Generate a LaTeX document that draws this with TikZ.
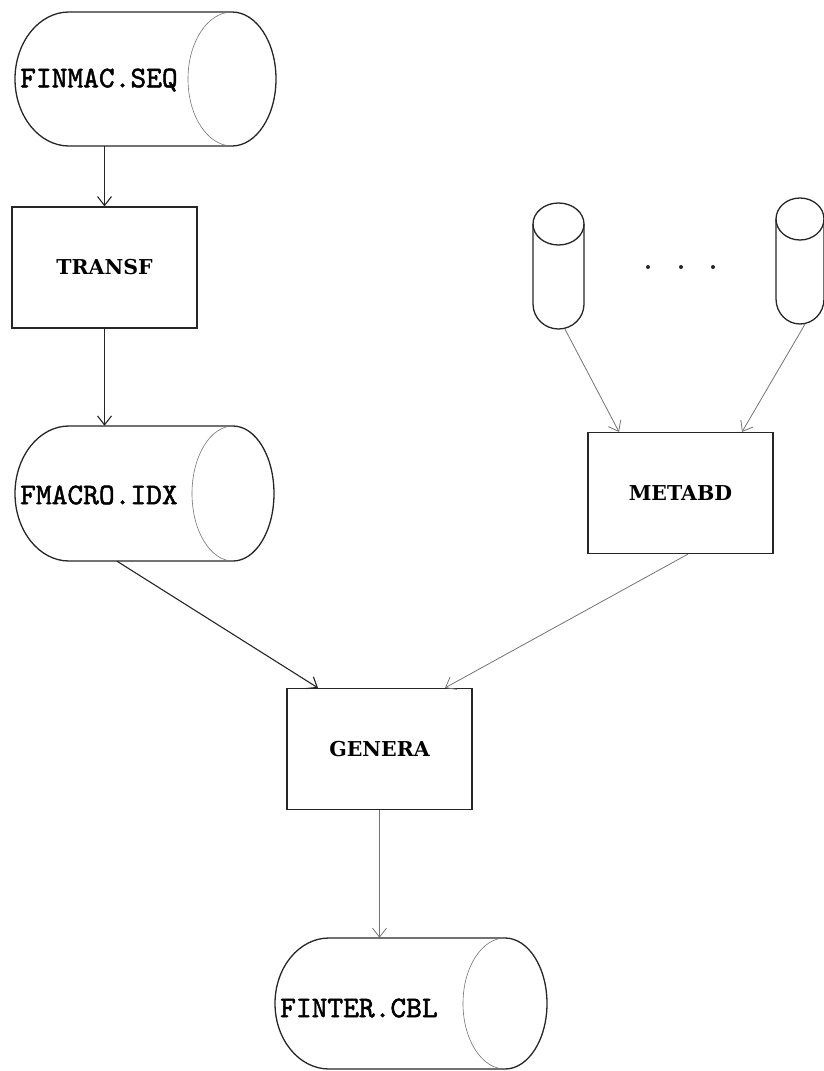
\documentclass[tikz,border=0pt]{standalone}
\usepackage{fontspec}
\newfontfamily\boxfont{DejaVu Serif}
\newfontfamily\cylfont{lmmono10-regular.otf}[FakeBold=1.6]
\usetikzlibrary{arrows.meta}
\tikzset{
  outline/.style={line width=1.3pt, black!85},
  innerarc/.style={line width=0.6pt, black!55},
  arr/.style={-{Straight Barb[length=9pt,width=14pt]}, line width=1.1pt, black!85},
  lightarr/.style={-{Straight Barb[length=9pt,width=14pt]}, line width=0.8pt, black!55},
  procbox/.style={draw, line width=1.2pt, black!85, text=black, minimum width=185pt, minimum height=121pt, inner sep=0pt, font=\boxfont\bfseries\fontsize{20.5}{24}\selectfont},
  cyltext/.style={font=\cylfont\fontsize{30}{34}\selectfont, anchor=west, inner sep=0pt, text=black},
  frame/.style={inner sep=0pt, draw=none},
}
% horizontal cylinder: #1 name, #2 left, #3 top, #4 join x, #5 right, #6 bottom
\newcommand\drawhcyl[6]{%
  \pgfmathsetmacro\cyry{(#6-#3)/2}%
  \pgfmathsetmacro\cyrx{#5-#4}%
  \node[frame, minimum width={(#5-#2)*1pt}, minimum height={(#6-#3)*1pt}] (#1) at ({(#2+#5)/2},{(#3+#6)/2}) {};
  \draw[outline] (#4,#3) -- ({#2+54},#3) arc[start angle=-90, end angle=-270, x radius=54, y radius=\cyry]
     -- (#4,#6) arc[start angle=90, end angle=-90, x radius=\cyrx, y radius=\cyry];
  \draw[innerarc] (#4,#3) arc[start angle=-90, end angle=-270, x radius=\cyrx, y radius=\cyry];
}
% vertical small cylinder: #1 name, #2 centre x, #3 top, #4 bottom, #5 rx, #6 top ellipse ry
\newcommand\drawvcyl[6]{%
  \node[frame, minimum width={2*#5*1pt}, minimum height={(#4-#3)*1pt}] (#1) at (#2,{(#3+#4)/2}) {};
  \draw[outline] ({#2-#5},{#3+#6}) -- ({#2-#5},{#4-25}) arc[start angle=180, end angle=0, x radius=#5, y radius=25] -- ({#2+#5},{#3+#6});
  \draw[outline] (#2,{#3+#6}) ellipse[x radius=#5, y radius=#6];
}
\begin{document}
\begin{tikzpicture}[x=1pt, y=-1pt]
\useasboundingbox (0,0) rectangle (824,1071);

% cylinders
\drawhcyl{finmac}{15}{12}{232}{276}{146}
\node[cyltext] (finmaclbl) at (20,80) {FINMAC.SEQ};
\drawhcyl{fmacro}{15}{426}{233}{274}{561}
\node[cyltext] (fmacrolbl) at (20,495) {FMACRO.IDX};
\drawhcyl{finter}{275}{938}{505}{547}{1069}
\node[cyltext] (finterlbl) at (280,1008) {FINTER.CBL};

\drawvcyl{db1}{558.5}{203}{329}{25.5}{21}
\drawvcyl{db2}{800}{198}{324}{24}{21}
\foreach \dx [count=\i] in {648,681,713}
  \fill[black!85] (\dx,267) circle[radius=2] coordinate (dot\i);

% process boxes
\node[procbox] (transf) at (104.5,267.5) {TRANSF};
\node[procbox] (metabd) at (680.5,493) {METABD};
\node[procbox] (genera) at (379.5,749) {GENERA};

% connectors
\draw[arr] (transf.north |- finmac.south) -- (transf.north);
\draw[arr] (transf.south) -- (transf.south |- fmacro.north);
\draw[arr] ([xshift=-27.5pt]fmacro.south) -- ([xshift=-61.5pt]genera.north);
\draw[lightarr] ([xshift=7.5pt]metabd.south) -- ([xshift=65.5pt]genera.north);
\draw[lightarr] ([xshift=6.5pt]db1.south) -- ([xshift=-61.5pt]metabd.north);
\draw[lightarr] ([xshift=5pt]db2.south) -- ([xshift=61.5pt]metabd.north);
\draw[lightarr] (genera.south) -- (genera.south |- finter.north);
\end{tikzpicture}
\end{document}
